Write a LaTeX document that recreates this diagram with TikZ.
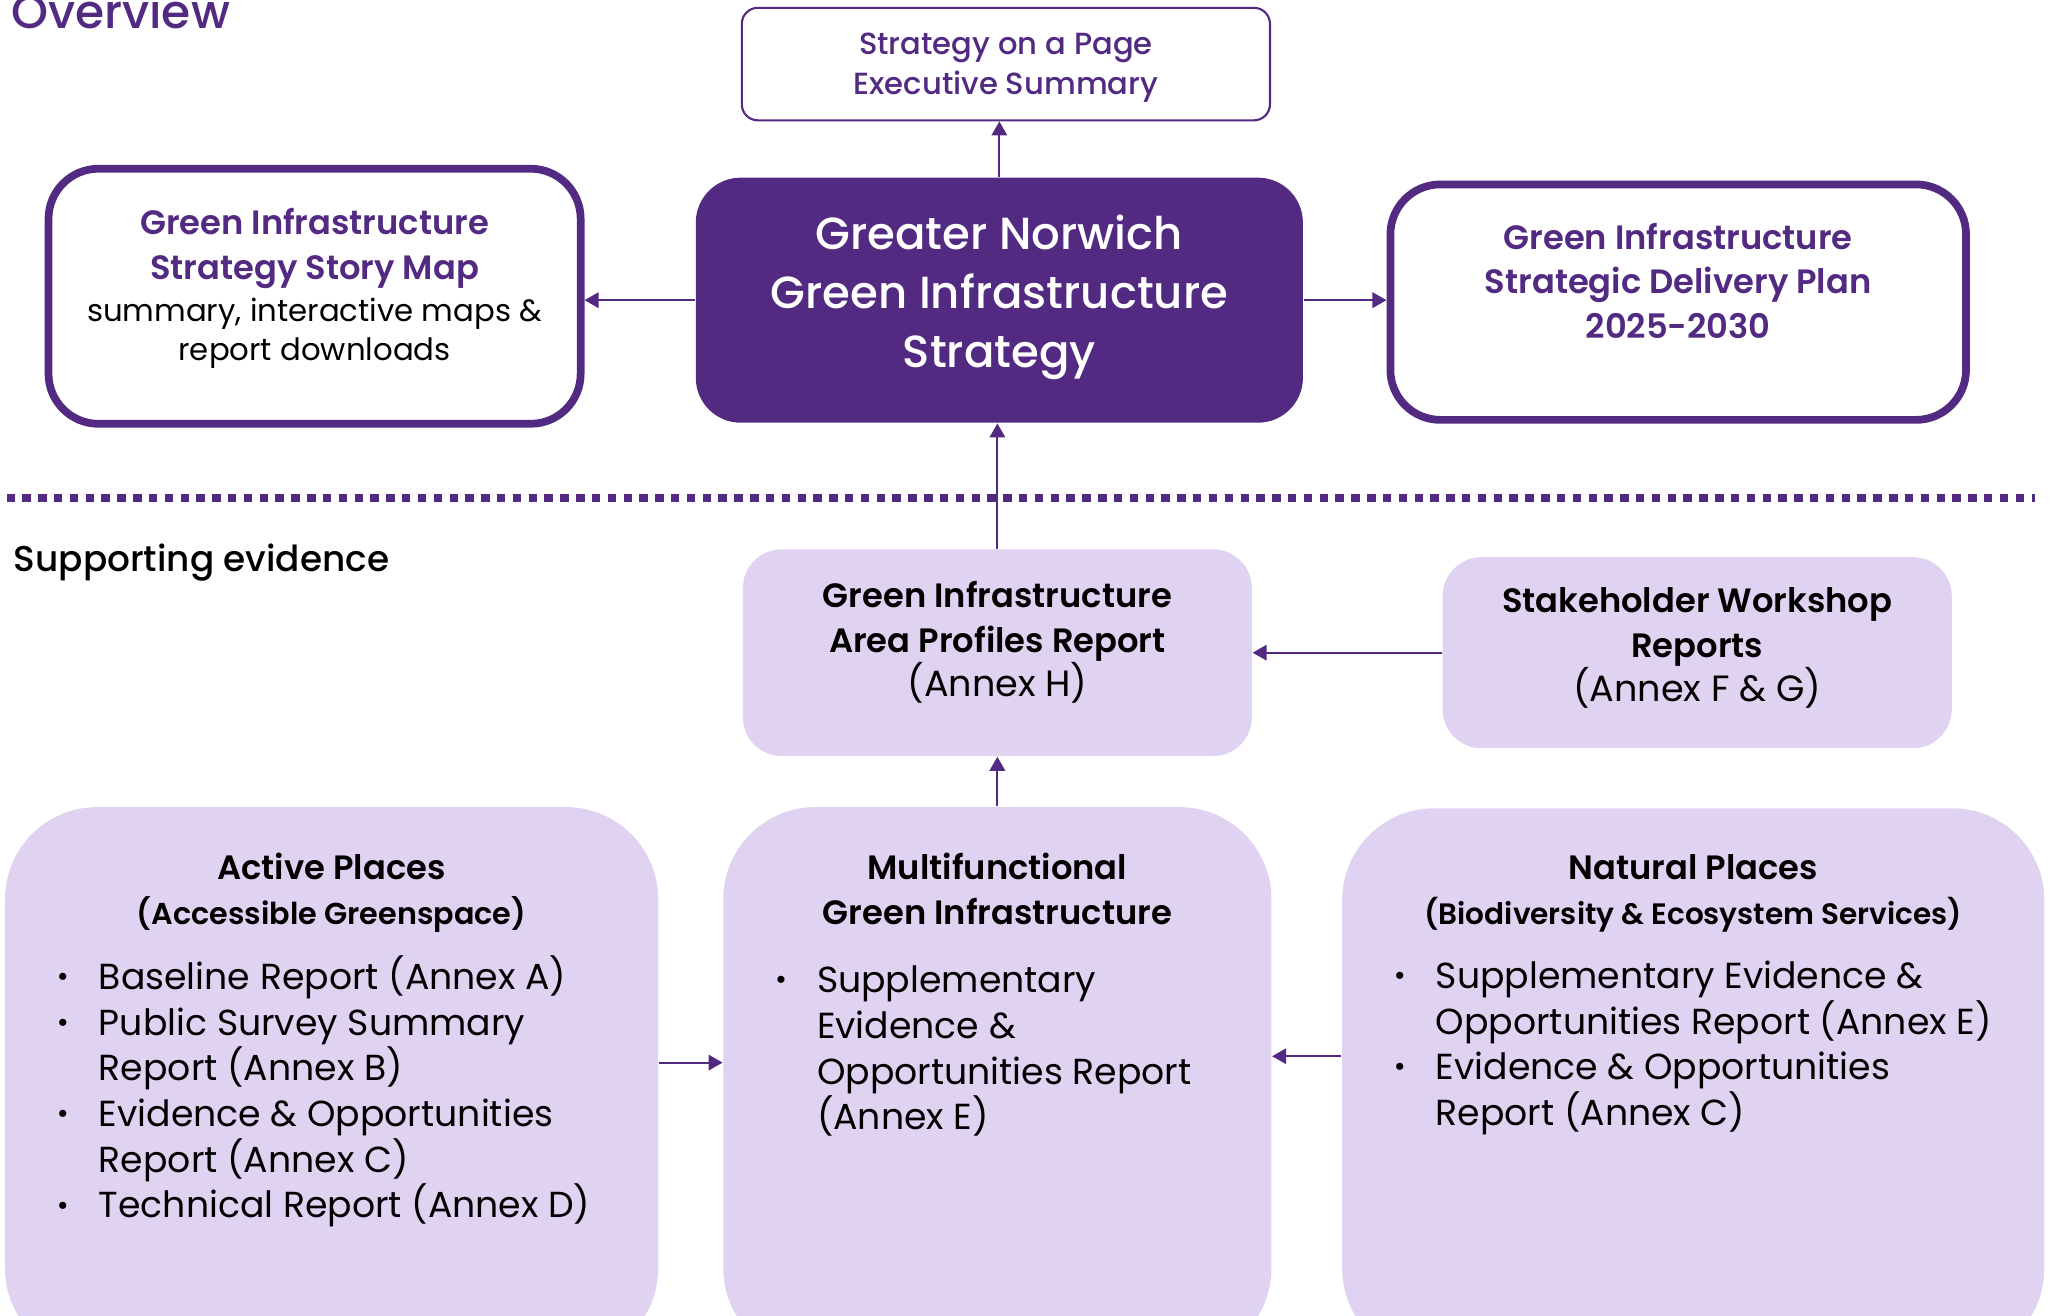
\documentclass[tikz,border=0pt]{standalone}
\usepackage{fontspec}
\setmainfont{Poppins}[BoldFont={Poppins SemiBold}]
\newfontfamily\medfont{Poppins Medium}
\usetikzlibrary{arrows.meta}
\definecolor{gnpurple}{RGB}{83,42,130}
\definecolor{gnlilac}{RGB}{224,211,241}
\tikzset{stratbox/.style={draw=gnpurple, line width=2.2pt, rounded corners=0.5cm, fill=white},
  pagebox/.style={draw=gnpurple, line width=0.6pt, rounded corners=0.16cm, fill=white},
  corebox/.style={fill=gnpurple, rounded corners=0.45cm},
  evbox/.style={fill=gnlilac, rounded corners=0.39cm},
  placebox/.style={fill=gnlilac, rounded corners=0.92cm},
  link/.style={draw=gnpurple, line width=0.6pt, -{Triangle[length=4pt,width=4.4pt]}},
  lbl/.style={inner sep=0pt, align=center}}
\newcommand\ttl{\fontsize{9.6}{12.65}\selectfont\bfseries}
\newcommand\bodytxt{\fontsize{10.3}{13}\selectfont}
\newcommand\annex{\fontsize{10.4}{12.65}\selectfont\mdseries}
\newcommand\bitem{\makebox[0.42cm][l]{\raisebox{0.08em}{\scalebox{0.8}{\textbullet}}}}
\newcommand\bcont{\hspace*{0.42cm}}

\begin{document}
\begin{tikzpicture}[x=0.01308cm, y=-0.01308cm]
  \useasboundingbox (0,0) rectangle (1568,1006);
  \clip (0,0) rectangle (1568,1006);
  % strategy documents
  \node[lbl, anchor=base west, text=gnpurple, font=\medfont\fontsize{13.4}{15}\selectfont] (ovw) at (8,22) {Overview};
  \node[pagebox, minimum width=5.28cm, minimum height=1.125cm] (sop) at (769,49) {};
  \node[lbl, anchor=north, text=gnpurple, font=\medfont\fontsize{8.7}{11.2}\selectfont] (sopt) at (769,25) {Strategy on a Page\\Executive Summary};
  \node[stratbox, minimum width=5.32cm, minimum height=2.55cm] (map) at (240.5,226.5) {};
  \node[lbl, anchor=north, text=gnpurple, font=\ttl] (mapt) at (240.5,159) {Green Infrastructure\\Strategy Story Map};
  \node[lbl, anchor=north, font=\fontsize{8.75}{11.2}\selectfont] (maps) at (240.5,227) {summary, interactive maps \&\\report downloads};
  \node[corebox, minimum width=6.07cm, minimum height=2.45cm] (gis) at (764,229.5) {};
  \node[lbl, anchor=north, text=white, font=\medfont\fontsize{12.8}{16.75}\selectfont] (gist) at (764,164) {Greater Norwich\\Green Infrastructure\\Strategy};
  \node[stratbox, minimum width=5.755cm, minimum height=2.354cm] (sdp) at (1283,231) {};
  \node[lbl, anchor=north, text=gnpurple, font=\ttl] (sdpt) at (1283,170) {Green Infrastructure\\Strategic Delivery Plan\\2025-2030};

  \draw[gnpurple, line width=2.2pt, dash pattern=on 2.4pt off 2.1pt] (5,381) -- (1556,381);

  % supporting evidence
  \node[lbl, anchor=north west, font=\medfont\fontsize{10.2}{12}\selectfont] (sev) at (10,415) {Supporting evidence};
  \node[evbox, minimum width=5.09cm, minimum height=2.067cm] (gia) at (762.5,499) {};
  \node[lbl, anchor=north, font=\ttl] (giat) at (762.5,444) {Green Infrastructure\\Area Profiles Report\\{\annex (Annex H)}};
  \node[evbox, minimum width=5.09cm, minimum height=1.91cm] (swr) at (1297.5,499) {};
  \node[lbl, anchor=north, font=\ttl] (swrt) at (1297.5,449) {Stakeholder Workshop\\Reports\\{\annex (Annex F \& G)}};

  \node[placebox, minimum width=6.53cm, minimum height=5.53cm] (act) at (253.5,828.5) {};
  \node[lbl, anchor=north, font=\ttl] (acth) at (253.5,652) {Active Places\\{\fontsize{8.6}{10}\selectfont (Accessible Greenspace)}};
  \node[lbl, anchor=north west, align=left, font=\bodytxt] (actl) at (43,730) {\bitem Baseline Report (Annex A)\\\bitem Public Survey Summary\\\bcont Report (Annex B)\\\bitem Evidence \& Opportunities\\\bcont Report (Annex C)\\\bitem Technical Report (Annex D)};
  \node[placebox, minimum width=5.48cm, minimum height=5.53cm] (mfg) at (762.5,828.5) {};
  \node[lbl, anchor=north, font=\ttl] (mfgh) at (762.5,652) {Multifunctional\\Green Infrastructure};
  \node[lbl, anchor=north west, align=left, font=\bodytxt] (mfgl) at (592,738) {\bitem Supplementary\\\bcont Evidence \&\\\bcont Opportunities Report\\\bcont (Annex E)};
  \node[placebox, minimum width=7.02cm, minimum height=5.52cm] (nat) at (1294.5,829) {};
  \node[lbl, anchor=north, font=\ttl] (nath) at (1294.5,653) {Natural Places\\{\fontsize{8.4}{10}\selectfont (Biodiversity \& Ecosystem Services)}};
  \node[lbl, anchor=north west, align=left, font=\bodytxt] (natl) at (1065,734) {\bitem Supplementary Evidence \&\\\bcont Opportunities Report (Annex E)\\\bitem Evidence \& Opportunities\\\bcont Report (Annex C)};

  \draw[link] (gis.north) -- (gis.north |- sop.south);
  \draw[link] (gis.west) -- (gis.west -| map.east);
  \draw[link] (gis.east) -- (gis.east -| sdp.west);
  \draw[link] (gia.north) -- (gia.north |- gis.south);
  \draw[link] (swr.west) -- (swr.west -| gia.east);
  \draw[link] (mfg.north) -- (mfg.north |- gia.south);
  \draw[link] ([yshift=6pt]act.east) -- ([yshift=6pt]act.east -| mfg.west);
  \draw[link] ([yshift=8pt]nat.west) -- ([yshift=8pt]nat.west -| mfg.east);
\end{tikzpicture}
\end{document}
